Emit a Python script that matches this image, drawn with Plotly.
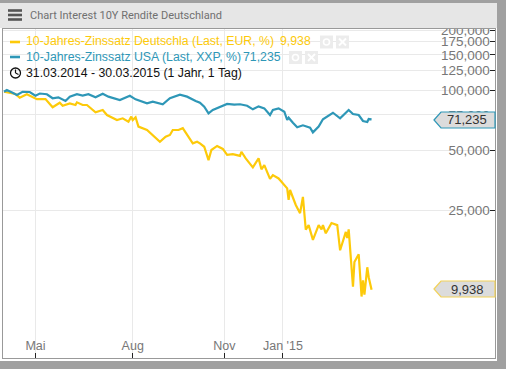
import plotly.graph_objects as go

W, H = 506, 369
PL, PR, PT, PB = 3, 495, 20, 358
title = "Chart Interest 10Y Rendite Deutschland"
legend_de = "10-Jahres-Zinssatz Deutschla (Last, EUR, %)"
legend_us = "10-Jahres-Zinssatz USA (Last, XXP, %)"
last_de_label, last_us_label = "9,938", "71,235"
date_label = "31.03.2014 - 30.03.2015 (1 Jahr, 1 Tag)"

us_sessions = [0,2,6,9,13,18,22,25,30,34,38,43,46,51,55,59,64,69,73,78,81,88,92,100,104,111,116,123,128,134,137,140,143,146,151,156,161,165,170,174,178,182,186,188,192,196,198,199,202,205,209,214,216,220,223,228,230,235,241,244,248,251,254,255,257]
us_values = [98.0,100,96.9,94.4,98.0,97.7,93.6,96,95.2,90.9,91.9,88.1,92.6,95.2,93.8,95.2,91.9,95.8,92.6,90.9,89.1,93.6,89.8,85.7,87.4,84.8,90.9,94.7,92.6,88.1,86.3,82.4,76.4,79.4,81.9,85.1,84.5,84.8,83.4,80.0,82.8,80.9,74.9,79.4,80.9,77.8,70.7,72.6,68.5,65,66.5,64.7,61.3,65.5,71.3,74.9,76.9,72.1,79.4,75.8,74.9,69.9,69.1,71.5,71.235]

de_sessions = [0,3,8,11,16,23,29,34,39,41,46,50,51,55,58,64,69,72,79,83,87,89,90,92,94,100,109,113,116,118,122,125,130,132,135,137,140,143,145,149,153,156,160,165,166,169,174,178,180,182,186,188,192,198,199,200,204,207,209,211,213,216,220,222,223,225,229,233,235,239,240,241,244,245,248,250,251,252,254,255,257]
de_values = [98.0,96.9,95.5,91.5,95.2,90,90,81.9,86.3,83.4,85.7,84.1,86.7,84.1,84.1,77.3,79.4,74.9,70.7,72.1,69.3,73.5,70.7,73,65.5,63,55,58.3,59.5,63,63,64.3,57.2,54,55,54,51.9,44.5,50,52.4,50.6,47.3,47.7,46.7,49,45.4,40.9,45.4,40,42,35.8,37.4,36,32.1,28.1,31.5,26.5,24.1,29.1,19.9,21,17.7,21,20,21,19.1,21.5,21,15.7,19.4,18.1,20,10.3,13.7,15,9.2,11.1,9.4,12.9,11.5,9.938]

y_ticks = [25, 50, 75, 100, 125, 150, 175, 200]
y_tick_labels = ["25,000", "50,000", "75,000", "100,000", "125,000", "150,000", "175,000", "200,000"]
x_ticks = [22, 90, 154, 195]
x_tick_labels = ["Mai", "Aug", "Nov", "Jan '15"]

YEL, BLU = "#fdca0a", "#2e97b7"
GRAY = "#a0a0a0"

def px(x): return (x - PL) / (PR - PL)
def py(y): return (PB - y) / (PB - PT)

shapes, ann = [], []
def rect(x0, y0, x1, y1, color, layer="above", line=None):
    shapes.append(dict(type="rect", xref="paper", yref="paper", x0=px(x0), x1=px(x1), y0=py(y0), y1=py(y1),
                       fillcolor=color, line=dict(width=0) if line is None else line, layer=layer))
def text(x, y, s, color, size, anchor="left", family="Liberation Sans"):
    ann.append(dict(xref="paper", yref="paper", x=px(x), y=py(y), text=s, showarrow=False, xanchor=anchor,
                    yanchor="middle", font=dict(family=family, size=size, color=color), borderpad=0, borderwidth=0))
def line(x0, y0, x1, y1, color, w):
    shapes.append(dict(type="line", xref="paper", yref="paper", x0=px(x0), x1=px(x1), y0=py(y0), y1=py(y1),
                       line=dict(color=color, width=w), layer="above"))

# outer chrome
rect(0, 0, W, 3, GRAY)
rect(0, 3, 497, 28, "#e6e6e6")
line(PL, 28.5, PR, 28.5, "#999999", 1)
rect(497, 0, W, H, GRAY)
rect(0, 361, W, H, GRAY)
for yy in (10.5, 15, 19.5):
    line(8, yy, 22, yy, "#555555", 2.6)
text(30, 15.5, title, "#707070", 11, family="Roboto")

# legend backing hides the grid
rect(4, 29, 494, 32, "#ffffff", "between")
rect(4, 32, 351, 49, "#ffffff", "between")
rect(4, 49, 320, 65, "#ffffff", "between")
rect(4, 65, 250, 81, "#ffffff", "between")

line(10, 42, 20, 42, YEL, 2.6)
line(10, 57, 20, 57, BLU, 2.6)
text(26, 41, legend_de, YEL, 12.3)
text(280, 41, last_de_label, YEL, 12.3)
text(26, 57, legend_us, BLU, 12.3)
text(243, 57, last_us_label, BLU, 12.3)
text(26, 73, date_label, "#111111", 12.3)
shapes.append(dict(type="circle", xref="paper", yref="paper", x0=px(10.5), x1=px(20.5), y0=py(78), y1=py(68),
                   line=dict(color="#111111", width=1.3), layer="above"))
line(15.5, 73, 15.5, 69.5, "#111111", 1.2)
line(15.5, 73, 18.5, 74.5, "#111111", 1.2)

# legend buttons
for x0, yc in ((320, 42), (336, 42), (289, 57.5), (305, 57.5)):
    rect(x0, yc - 6.5, x0 + 13, yc + 6.5, "#ececec")
for x0, yc in ((320, 42), (289, 57.5)):
    shapes.append(dict(type="circle", xref="paper", yref="paper", x0=px(x0 + 3.5), x1=px(x0 + 9.5), y0=py(yc + 3), y1=py(yc - 3),
                       line=dict(color="#ffffff", width=1.6), layer="above"))
for x0, yc in ((336, 42), (305, 57.5)):
    line(x0 + 3, yc - 3.5, x0 + 10, yc + 3.5, "#ffffff", 2)
    line(x0 + 3, yc + 3.5, x0 + 10, yc - 3.5, "#ffffff", 2)

# value tags
def tag(yc, color, s):
    p = "M {} {} L {} {} L {} {} L {} {} L {} {} Z".format(
        px(434), py(yc), px(441), py(yc - 8), px(495), py(yc - 8), px(495), py(yc + 8), px(441), py(yc + 8))
    shapes.append(dict(type="path", xref="paper", yref="paper", path=p, fillcolor="#dcdcdc",
                       line=dict(color=color, width=1.2), layer="above"))
    text(467, yc, s, "#333333", 13, "center")
tag(120, BLU, last_us_label)
tag(289, "#f2d25a", last_de_label)

fig = go.Figure()
fig.add_trace(go.Scatter(x=de_sessions, y=de_values, mode="lines", line=dict(color=YEL, width=2.2), hoverinfo="skip"))
fig.add_trace(go.Scatter(x=us_sessions, y=us_values, mode="lines", line=dict(color=BLU, width=2.2), hoverinfo="skip"))

fig.update_layout(
    width=W, height=H, autosize=False, showlegend=False,
    margin=dict(l=PL, r=W - PR, t=PT, b=H - PB),
    paper_bgcolor="#ffffff", plot_bgcolor="#ffffff",
    shapes=shapes, annotations=ann,
    xaxis=dict(range=[-0.7, 343.3], tickmode="array", tickvals=x_ticks, ticktext=x_tick_labels,
               ticks="inside", ticklen=5, tickwidth=1, tickcolor="#222222", ticklabelposition="inside",
               tickfont=dict(family="Liberation Sans", size=12.5, color="#777777"),
               showgrid=True, gridcolor="#e9e9e9", gridwidth=1, showline=True, linecolor="#999999",
               linewidth=1, mirror=True, zeroline=False),
    yaxis=dict(type="log", range=[0.6554, 2.3512], side="right", tickmode="array", tickvals=y_ticks,
               ticktext=y_tick_labels, ticks="inside", ticklen=5, tickwidth=1, tickcolor="#222222",
               ticklabelposition="inside", tickfont=dict(family="Liberation Sans", size=13.5, color="#777777"),
               showgrid=True, gridcolor="#e9e9e9", gridwidth=1, showline=True, linecolor="#999999",
               linewidth=1, mirror=True, zeroline=False),
)
fig.write_html("out.html", config=dict(displayModeBar=False),
               post_script="document.body.style.margin='0';")
